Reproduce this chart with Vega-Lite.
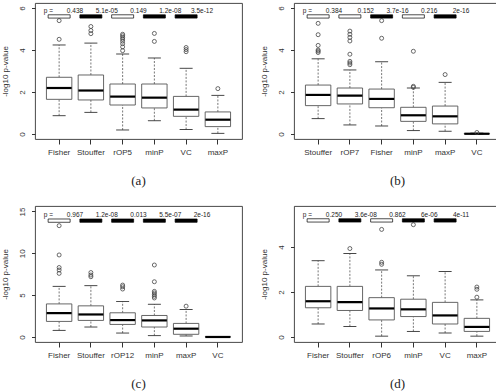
{
"$schema": "https://vega.github.io/schema/vega-lite/v6.json",
"padding": {"left": 1, "top": 2, "right": 0, "bottom": 0},
"datasets": {
"boxes": [
{"panel":"a","method":"Fisher","lo":0.87,"q1":1.65,"med":2.19,"q3":2.70,"hi":4.24},
{"panel":"a","method":"Stouffer","lo":1.03,"q1":1.62,"med":2.07,"q3":2.81,"hi":4.33},
{"panel":"a","method":"rOP5","lo":0.19,"q1":1.38,"med":1.78,"q3":2.38,"hi":3.81},
{"panel":"a","method":"minP","lo":0.63,"q1":1.24,"med":1.73,"q3":2.38,"hi":3.62},
{"panel":"a","method":"VC","lo":0.21,"q1":0.84,"med":1.16,"q3":1.79,"hi":3.13},
{"panel":"a","method":"maxP","lo":0.03,"q1":0.35,"med":0.68,"q3":1.05,"hi":1.84},
{"panel":"b","method":"Stouffer","lo":0.73,"q1":1.35,"med":1.86,"q3":2.33,"hi":3.58},
{"panel":"b","method":"rOP7","lo":0.43,"q1":1.43,"med":1.83,"q3":2.19,"hi":3.05},
{"panel":"b","method":"Fisher","lo":0.38,"q1":1.25,"med":1.67,"q3":2.14,"hi":3.44},
{"panel":"b","method":"minP","lo":0.16,"q1":0.60,"med":0.89,"q3":1.27,"hi":2.19},
{"panel":"b","method":"maxP","lo":0.13,"q1":0.48,"med":0.84,"q3":1.33,"hi":2.46},
{"panel":"b","method":"VC","lo":0.0,"q1":0.0,"med":0.01,"q3":0.02,"hi":0.04},
{"panel":"c","method":"Fisher","lo":0.79,"q1":1.86,"med":2.85,"q3":3.95,"hi":6.05},
{"panel":"c","method":"Stouffer","lo":1.19,"q1":1.98,"med":2.69,"q3":3.72,"hi":6.13},
{"panel":"c","method":"rOP12","lo":0.47,"q1":1.50,"med":2.02,"q3":2.89,"hi":4.23},
{"panel":"c","method":"minP","lo":0.16,"q1":1.19,"med":1.98,"q3":2.57,"hi":3.91},
{"panel":"c","method":"maxP","lo":0.12,"q1":0.32,"med":0.99,"q3":1.62,"hi":3.28},
{"panel":"c","method":"VC","lo":0.0,"q1":0.0,"med":0.0,"q3":0.02,"hi":0.05},
{"panel":"d","method":"Fisher","lo":0.58,"q1":1.30,"med":1.59,"q3":2.25,"hi":3.39},
{"panel":"d","method":"Stouffer","lo":0.47,"q1":1.18,"med":1.55,"q3":2.25,"hi":3.71},
{"panel":"d","method":"rOP6","lo":0.04,"q1":0.76,"med":1.27,"q3":1.75,"hi":2.98},
{"panel":"d","method":"minP","lo":0.25,"q1":0.91,"med":1.23,"q3":1.68,"hi":2.72},
{"panel":"d","method":"VC","lo":0.18,"q1":0.58,"med":0.96,"q3":1.54,"hi":2.91},
{"panel":"d","method":"maxP","lo":0.04,"q1":0.25,"med":0.45,"q3":0.83,"hi":1.65}
],
"outliers": [
{"panel":"a","method":"Fisher","value":4.51},{"panel":"a","method":"Fisher","value":5.40},
{"panel":"a","method":"Stouffer","value":4.78},{"panel":"a","method":"Stouffer","value":4.93},{"panel":"a","method":"Stouffer","value":5.12},
{"panel":"a","method":"rOP5","value":3.97},{"panel":"a","method":"rOP5","value":4.15},{"panel":"a","method":"rOP5","value":4.3},{"panel":"a","method":"rOP5","value":4.42},{"panel":"a","method":"rOP5","value":4.52},{"panel":"a","method":"rOP5","value":4.6},{"panel":"a","method":"rOP5","value":4.68},{"panel":"a","method":"rOP5","value":4.75},
{"panel":"a","method":"minP","value":4.41},{"panel":"a","method":"minP","value":4.79},
{"panel":"a","method":"VC","value":3.92},{"panel":"a","method":"VC","value":4.02},{"panel":"a","method":"VC","value":4.12},
{"panel":"a","method":"maxP","value":2.16},
{"panel":"b","method":"Stouffer","value":3.88},{"panel":"b","method":"Stouffer","value":3.95},{"panel":"b","method":"Stouffer","value":4.0},{"panel":"b","method":"Stouffer","value":4.22},{"panel":"b","method":"Stouffer","value":4.73},{"panel":"b","method":"Stouffer","value":5.27},
{"panel":"b","method":"rOP7","value":3.3},{"panel":"b","method":"rOP7","value":3.38},{"panel":"b","method":"rOP7","value":3.46},{"panel":"b","method":"rOP7","value":3.8},{"panel":"b","method":"rOP7","value":4.43},{"panel":"b","method":"rOP7","value":4.6},{"panel":"b","method":"rOP7","value":4.75},{"panel":"b","method":"rOP7","value":4.9},
{"panel":"b","method":"Fisher","value":4.56},{"panel":"b","method":"Fisher","value":5.4},
{"panel":"b","method":"minP","value":2.22},{"panel":"b","method":"minP","value":2.27},{"panel":"b","method":"minP","value":3.94},
{"panel":"b","method":"maxP","value":2.83},
{"panel":"b","method":"VC","value":0.07},
{"panel":"c","method":"Fisher","value":7.6},{"panel":"c","method":"Fisher","value":8.0},{"panel":"c","method":"Fisher","value":8.3},{"panel":"c","method":"Fisher","value":9.8},{"panel":"c","method":"Fisher","value":13.3},
{"panel":"c","method":"Stouffer","value":7.2},{"panel":"c","method":"Stouffer","value":7.4},{"panel":"c","method":"Stouffer","value":7.7},
{"panel":"c","method":"rOP12","value":5.73},{"panel":"c","method":"rOP12","value":6.0},{"panel":"c","method":"rOP12","value":6.2},
{"panel":"c","method":"minP","value":4.66},{"panel":"c","method":"minP","value":4.86},{"panel":"c","method":"minP","value":5.06},{"panel":"c","method":"minP","value":5.26},{"panel":"c","method":"minP","value":5.45},{"panel":"c","method":"minP","value":6.6},{"panel":"c","method":"minP","value":8.6},
{"panel":"c","method":"maxP","value":3.68},
{"panel":"d","method":"Stouffer","value":3.93},
{"panel":"d","method":"rOP6","value":3.23},{"panel":"d","method":"rOP6","value":3.32},{"panel":"d","method":"rOP6","value":4.78},
{"panel":"d","method":"minP","value":4.99},
{"panel":"d","method":"maxP","value":1.77},{"panel":"d","method":"maxP","value":2.12},{"panel":"d","method":"maxP","value":2.22}
],
"pvals": [
{"panel":"a","method":"Fisher","label":"0.438","sig":"no"},
{"panel":"a","method":"Stouffer","label":"5.1e-05","sig":"yes"},
{"panel":"a","method":"rOP5","label":"0.149","sig":"no"},
{"panel":"a","method":"minP","label":"1.2e-08","sig":"yes"},
{"panel":"a","method":"VC","label":"3.5e-12","sig":"yes"},
{"panel":"b","method":"Stouffer","label":"0.384","sig":"no"},
{"panel":"b","method":"rOP7","label":"0.152","sig":"no"},
{"panel":"b","method":"Fisher","label":"3.7e-16","sig":"yes"},
{"panel":"b","method":"minP","label":"0.216","sig":"no"},
{"panel":"b","method":"maxP","label":"2e-16","sig":"yes"},
{"panel":"c","method":"Fisher","label":"0.967","sig":"no"},
{"panel":"c","method":"Stouffer","label":"1.2e-08","sig":"yes"},
{"panel":"c","method":"rOP12","label":"0.013","sig":"yes"},
{"panel":"c","method":"minP","label":"5.5e-07","sig":"yes"},
{"panel":"c","method":"maxP","label":"2e-16","sig":"yes"},
{"panel":"d","method":"Fisher","label":"0.250","sig":"no"},
{"panel":"d","method":"Stouffer","label":"3.6e-08","sig":"yes"},
{"panel":"d","method":"rOP6","label":"0.862","sig":"no"},
{"panel":"d","method":"minP","label":"6e-06","sig":"yes"},
{"panel":"d","method":"VC","label":"4e-11","sig":"yes"}
],
"pstart": [
{"panel":"a","method":"Fisher","text":"p ="},
{"panel":"b","method":"Stouffer","text":"p ="},
{"panel":"c","method":"Fisher","text":"p ="},
{"panel":"d","method":"Fisher","text":"p ="}
]
},
"columns": 2,
"spacing": {"row": 16, "column": 17},
"concat": [
{
"width": 207, "height": 136,
"title": {"text": "(a)"},
"layer": [
{"data":{"name":"boxes"},"transform":[{"filter":"datum.panel==='a'"}],"mark":{"type":"rule","strokeDash":[2,1.5],"color":"#555","strokeWidth":0.8},
 "encoding":{"x":{"field":"method","type":"nominal","title":null,"scale":{"domain":["Fisher","Stouffer","rOP5","minP","VC","maxP"],"paddingInner":0,"paddingOuter":0.26}},
 "y":{"field":"lo","type":"quantitative","scale":{"domain":[-0.24,6.24],"nice":false,"zero":false},"axis":{"values":[0,1,2,3,4,5,6],"title":"-log10 p-value"}},"y2":{"field":"q1"}}},
{"data":{"name":"boxes"},"transform":[{"filter":"datum.panel==='a'"}],"mark":{"type":"rule","strokeDash":[2,1.5],"color":"#555","strokeWidth":0.8},
 "encoding":{"x":{"field":"method","type":"nominal","title":null},"y":{"field":"q3","type":"quantitative"},"y2":{"field":"hi"}}},
{"data":{"name":"boxes"},"transform":[{"filter":"datum.panel==='a'"}],"mark":{"type":"tick","size":13,"thickness":0.9,"color":"#333","opacity":1},
 "encoding":{"x":{"field":"method","type":"nominal","title":null},"y":{"field":"lo","type":"quantitative"}}},
{"data":{"name":"boxes"},"transform":[{"filter":"datum.panel==='a'"}],"mark":{"type":"tick","size":13,"thickness":0.9,"color":"#333","opacity":1},
 "encoding":{"x":{"field":"method","type":"nominal","title":null},"y":{"field":"hi","type":"quantitative"}}},
{"data":{"name":"boxes"},"transform":[{"filter":"datum.panel==='a'"}],"mark":{"type":"bar","width":{"band":0.8},"fill":"white","stroke":"#555","strokeWidth":0.9},
 "encoding":{"x":{"field":"method","type":"nominal","title":null},"y":{"field":"q1","type":"quantitative"},"y2":{"field":"q3"}}},
{"data":{"name":"boxes"},"transform":[{"filter":"datum.panel==='a'"}],"mark":{"type":"tick","size":25,"thickness":2.2,"color":"black","opacity":1},
 "encoding":{"x":{"field":"method","type":"nominal","title":null},"y":{"field":"med","type":"quantitative"}}},
{"data":{"name":"outliers"},"transform":[{"filter":"datum.panel==='a'"}],"mark":{"type":"point","shape":"circle","filled":false,"size":16,"color":"#444","strokeWidth":0.8,"opacity":1},
 "encoding":{"x":{"field":"method","type":"nominal","title":null},"y":{"field":"value","type":"quantitative"}}},
{"data":{"name":"pvals"},"transform":[{"filter":"datum.panel==='a'"}],"mark":{"type":"tick","size":22,"thickness":3.3,"stroke":"black","strokeWidth":0.7,"opacity":1},
 "encoding":{"x":{"field":"method","type":"nominal","title":null,"bandPosition":1},"y":{"datum":5.6},"fill":{"field":"sig","type":"nominal","scale":{"domain":["no","yes"],"range":["white","black"]},"legend":null}}},
{"data":{"name":"pvals"},"transform":[{"filter":"datum.panel==='a'"}],"mark":{"type":"text","fontSize":6.5,"color":"#222","baseline":"middle"},
 "encoding":{"x":{"field":"method","type":"nominal","title":null,"bandPosition":1},"y":{"datum":5.88},"text":{"field":"label"}}},
{"data":{"name":"pstart"},"transform":[{"filter":"datum.panel==='a'"}],"mark":{"type":"text","fontSize":6.5,"color":"#222","baseline":"middle"},
 "encoding":{"x":{"field":"method","type":"nominal","title":null,"bandPosition":0.16},"y":{"datum":5.88},"text":{"field":"text"}}}
]
},
{
"width": 207, "height": 136,
"title": {"text": "(b)"},
"layer": [
{"data":{"name":"boxes"},"transform":[{"filter":"datum.panel==='b'"}],"mark":{"type":"rule","strokeDash":[2,1.5],"color":"#555","strokeWidth":0.8},
 "encoding":{"x":{"field":"method","type":"nominal","title":null,"scale":{"domain":["Stouffer","rOP7","Fisher","minP","maxP","VC"],"paddingInner":0,"paddingOuter":0.26}},
 "y":{"field":"lo","type":"quantitative","scale":{"domain":[-0.24,6.24],"nice":false,"zero":false},"axis":{"values":[0,1,2,3,4,5,6],"title":"-log10 p-value"}},"y2":{"field":"q1"}}},
{"data":{"name":"boxes"},"transform":[{"filter":"datum.panel==='b'"}],"mark":{"type":"rule","strokeDash":[2,1.5],"color":"#555","strokeWidth":0.8},
 "encoding":{"x":{"field":"method","type":"nominal","title":null},"y":{"field":"q3","type":"quantitative"},"y2":{"field":"hi"}}},
{"data":{"name":"boxes"},"transform":[{"filter":"datum.panel==='b'"}],"mark":{"type":"tick","size":13,"thickness":0.9,"color":"#333","opacity":1},
 "encoding":{"x":{"field":"method","type":"nominal","title":null},"y":{"field":"lo","type":"quantitative"}}},
{"data":{"name":"boxes"},"transform":[{"filter":"datum.panel==='b'"}],"mark":{"type":"tick","size":13,"thickness":0.9,"color":"#333","opacity":1},
 "encoding":{"x":{"field":"method","type":"nominal","title":null},"y":{"field":"hi","type":"quantitative"}}},
{"data":{"name":"boxes"},"transform":[{"filter":"datum.panel==='b'"}],"mark":{"type":"bar","width":{"band":0.8},"fill":"white","stroke":"#555","strokeWidth":0.9},
 "encoding":{"x":{"field":"method","type":"nominal","title":null},"y":{"field":"q1","type":"quantitative"},"y2":{"field":"q3"}}},
{"data":{"name":"boxes"},"transform":[{"filter":"datum.panel==='b'"}],"mark":{"type":"tick","size":25,"thickness":2.2,"color":"black","opacity":1},
 "encoding":{"x":{"field":"method","type":"nominal","title":null},"y":{"field":"med","type":"quantitative"}}},
{"data":{"name":"outliers"},"transform":[{"filter":"datum.panel==='b'"}],"mark":{"type":"point","shape":"circle","filled":false,"size":16,"color":"#444","strokeWidth":0.8,"opacity":1},
 "encoding":{"x":{"field":"method","type":"nominal","title":null},"y":{"field":"value","type":"quantitative"}}},
{"data":{"name":"pvals"},"transform":[{"filter":"datum.panel==='b'"}],"mark":{"type":"tick","size":22,"thickness":3.3,"stroke":"black","strokeWidth":0.7,"opacity":1},
 "encoding":{"x":{"field":"method","type":"nominal","title":null,"bandPosition":1},"y":{"datum":5.6},"fill":{"field":"sig","type":"nominal","scale":{"domain":["no","yes"],"range":["white","black"]},"legend":null}}},
{"data":{"name":"pvals"},"transform":[{"filter":"datum.panel==='b'"}],"mark":{"type":"text","fontSize":6.5,"color":"#222","baseline":"middle"},
 "encoding":{"x":{"field":"method","type":"nominal","title":null,"bandPosition":1},"y":{"datum":5.88},"text":{"field":"label"}}},
{"data":{"name":"pstart"},"transform":[{"filter":"datum.panel==='b'"}],"mark":{"type":"text","fontSize":6.5,"color":"#222","baseline":"middle"},
 "encoding":{"x":{"field":"method","type":"nominal","title":null,"bandPosition":0.16},"y":{"datum":5.88},"text":{"field":"text"}}}
]
},
{
"width": 207, "height": 136,
"title": {"text": "(c)"},
"layer": [
{"data":{"name":"boxes"},"transform":[{"filter":"datum.panel==='c'"}],"mark":{"type":"rule","strokeDash":[2,1.5],"color":"#555","strokeWidth":0.8},
 "encoding":{"x":{"field":"method","type":"nominal","title":null,"scale":{"domain":["Fisher","Stouffer","rOP12","minP","maxP","VC"],"paddingInner":0,"paddingOuter":0.26}},
 "y":{"field":"lo","type":"quantitative","scale":{"domain":[-0.6,15.65],"nice":false,"zero":false},"axis":{"values":[0,5,10,15],"title":"-log10 p-value"}},"y2":{"field":"q1"}}},
{"data":{"name":"boxes"},"transform":[{"filter":"datum.panel==='c'"}],"mark":{"type":"rule","strokeDash":[2,1.5],"color":"#555","strokeWidth":0.8},
 "encoding":{"x":{"field":"method","type":"nominal","title":null},"y":{"field":"q3","type":"quantitative"},"y2":{"field":"hi"}}},
{"data":{"name":"boxes"},"transform":[{"filter":"datum.panel==='c'"}],"mark":{"type":"tick","size":13,"thickness":0.9,"color":"#333","opacity":1},
 "encoding":{"x":{"field":"method","type":"nominal","title":null},"y":{"field":"lo","type":"quantitative"}}},
{"data":{"name":"boxes"},"transform":[{"filter":"datum.panel==='c'"}],"mark":{"type":"tick","size":13,"thickness":0.9,"color":"#333","opacity":1},
 "encoding":{"x":{"field":"method","type":"nominal","title":null},"y":{"field":"hi","type":"quantitative"}}},
{"data":{"name":"boxes"},"transform":[{"filter":"datum.panel==='c'"}],"mark":{"type":"bar","width":{"band":0.8},"fill":"white","stroke":"#555","strokeWidth":0.9},
 "encoding":{"x":{"field":"method","type":"nominal","title":null},"y":{"field":"q1","type":"quantitative"},"y2":{"field":"q3"}}},
{"data":{"name":"boxes"},"transform":[{"filter":"datum.panel==='c'"}],"mark":{"type":"tick","size":25,"thickness":2.2,"color":"black","opacity":1},
 "encoding":{"x":{"field":"method","type":"nominal","title":null},"y":{"field":"med","type":"quantitative"}}},
{"data":{"name":"outliers"},"transform":[{"filter":"datum.panel==='c'"}],"mark":{"type":"point","shape":"circle","filled":false,"size":16,"color":"#444","strokeWidth":0.8,"opacity":1},
 "encoding":{"x":{"field":"method","type":"nominal","title":null},"y":{"field":"value","type":"quantitative"}}},
{"data":{"name":"pvals"},"transform":[{"filter":"datum.panel==='c'"}],"mark":{"type":"tick","size":22,"thickness":3.3,"stroke":"black","strokeWidth":0.7,"opacity":1},
 "encoding":{"x":{"field":"method","type":"nominal","title":null,"bandPosition":1},"y":{"datum":13.9},"fill":{"field":"sig","type":"nominal","scale":{"domain":["no","yes"],"range":["white","black"]},"legend":null}}},
{"data":{"name":"pvals"},"transform":[{"filter":"datum.panel==='c'"}],"mark":{"type":"text","fontSize":6.5,"color":"#222","baseline":"middle"},
 "encoding":{"x":{"field":"method","type":"nominal","title":null,"bandPosition":1},"y":{"datum":14.55},"text":{"field":"label"}}},
{"data":{"name":"pstart"},"transform":[{"filter":"datum.panel==='c'"}],"mark":{"type":"text","fontSize":6.5,"color":"#222","baseline":"middle"},
 "encoding":{"x":{"field":"method","type":"nominal","title":null,"bandPosition":0.16},"y":{"datum":14.55},"text":{"field":"text"}}}
]
},
{
"width": 207, "height": 136,
"title": {"text": "(d)"},
"layer": [
{"data":{"name":"boxes"},"transform":[{"filter":"datum.panel==='d'"}],"mark":{"type":"rule","strokeDash":[2,1.5],"color":"#555","strokeWidth":0.8},
 "encoding":{"x":{"field":"method","type":"nominal","title":null,"scale":{"domain":["Fisher","Stouffer","rOP6","minP","VC","maxP"],"paddingInner":0,"paddingOuter":0.26}},
 "y":{"field":"lo","type":"quantitative","scale":{"domain":[-0.22,5.82],"nice":false,"zero":false},"axis":{"values":[0,1,2,3,4,5],"title":"-log10 p-value"}},"y2":{"field":"q1"}}},
{"data":{"name":"boxes"},"transform":[{"filter":"datum.panel==='d'"}],"mark":{"type":"rule","strokeDash":[2,1.5],"color":"#555","strokeWidth":0.8},
 "encoding":{"x":{"field":"method","type":"nominal","title":null},"y":{"field":"q3","type":"quantitative"},"y2":{"field":"hi"}}},
{"data":{"name":"boxes"},"transform":[{"filter":"datum.panel==='d'"}],"mark":{"type":"tick","size":13,"thickness":0.9,"color":"#333","opacity":1},
 "encoding":{"x":{"field":"method","type":"nominal","title":null},"y":{"field":"lo","type":"quantitative"}}},
{"data":{"name":"boxes"},"transform":[{"filter":"datum.panel==='d'"}],"mark":{"type":"tick","size":13,"thickness":0.9,"color":"#333","opacity":1},
 "encoding":{"x":{"field":"method","type":"nominal","title":null},"y":{"field":"hi","type":"quantitative"}}},
{"data":{"name":"boxes"},"transform":[{"filter":"datum.panel==='d'"}],"mark":{"type":"bar","width":{"band":0.8},"fill":"white","stroke":"#555","strokeWidth":0.9},
 "encoding":{"x":{"field":"method","type":"nominal","title":null},"y":{"field":"q1","type":"quantitative"},"y2":{"field":"q3"}}},
{"data":{"name":"boxes"},"transform":[{"filter":"datum.panel==='d'"}],"mark":{"type":"tick","size":25,"thickness":2.2,"color":"black","opacity":1},
 "encoding":{"x":{"field":"method","type":"nominal","title":null},"y":{"field":"med","type":"quantitative"}}},
{"data":{"name":"outliers"},"transform":[{"filter":"datum.panel==='d'"}],"mark":{"type":"point","shape":"circle","filled":false,"size":16,"color":"#444","strokeWidth":0.8,"opacity":1},
 "encoding":{"x":{"field":"method","type":"nominal","title":null},"y":{"field":"value","type":"quantitative"}}},
{"data":{"name":"pvals"},"transform":[{"filter":"datum.panel==='d'"}],"mark":{"type":"tick","size":22,"thickness":3.3,"stroke":"black","strokeWidth":0.7,"opacity":1},
 "encoding":{"x":{"field":"method","type":"nominal","title":null,"bandPosition":1},"y":{"datum":5.18},"fill":{"field":"sig","type":"nominal","scale":{"domain":["no","yes"],"range":["white","black"]},"legend":null}}},
{"data":{"name":"pvals"},"transform":[{"filter":"datum.panel==='d'"}],"mark":{"type":"text","fontSize":6.5,"color":"#222","baseline":"middle"},
 "encoding":{"x":{"field":"method","type":"nominal","title":null,"bandPosition":1},"y":{"datum":5.41},"text":{"field":"label"}}},
{"data":{"name":"pstart"},"transform":[{"filter":"datum.panel==='d'"}],"mark":{"type":"text","fontSize":6.5,"color":"#222","baseline":"middle"},
 "encoding":{"x":{"field":"method","type":"nominal","title":null,"bandPosition":0.16},"y":{"datum":5.41},"text":{"field":"text"}}}
]
}
],
"config": {
"view": {"stroke": "#333", "strokeWidth": 0.9},
"font": "Liberation Sans",
"axis": {"grid": false, "domain": false, "tickColor": "#333", "labelFontSize": 8, "labelColor": "#333", "labelFont": "Liberation Sans", "titleFontSize": 8, "titleFontWeight": "normal", "titleColor": "#333", "titleFont": "Liberation Sans", "labelOverlap": false},
"axisX": {"labelAngle": 0, "labelPadding": 4, "tickSize": 5},
"axisY": {"labelAngle": -90, "labelAlign": "center", "labelBaseline": "bottom", "labelPadding": 5, "titlePadding": 9, "tickSize": 3.5},
"title": {"font": "Liberation Serif", "fontSize": 13, "fontWeight": "normal", "color": "#222", "orient": "bottom", "offset": 19, "frame": "group"}
}
}
